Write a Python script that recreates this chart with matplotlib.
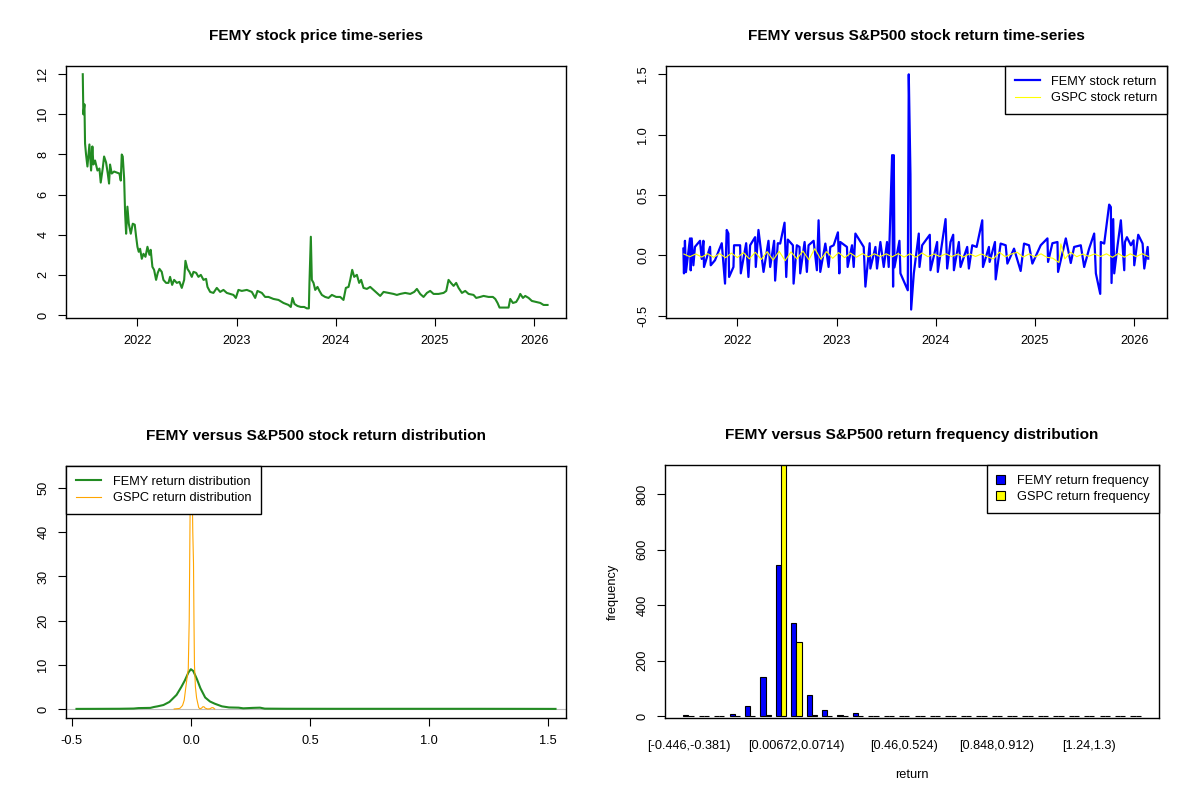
import matplotlib
matplotlib.use('Agg')
import matplotlib.pyplot as plt
from matplotlib.patches import Patch
from matplotlib.lines import Line2D

plt.rcParams['font.family'] = ['Liberation Sans', 'DejaVu Sans']
plt.rcParams['font.size'] = 9.2

# FEMY closing price (decimal year, USD)
price_dates = [2021.449, 2021.455, 2021.466, 2021.472, 2021.482, 2021.496, 2021.516, 2021.533,
               2021.546, 2021.556, 2021.573, 2021.597, 2021.617, 2021.630, 2021.650, 2021.664,
               2021.684, 2021.701, 2021.714, 2021.724, 2021.741, 2021.765, 2021.792, 2021.818,
               2021.832, 2021.842, 2021.852, 2021.866, 2021.876, 2021.886, 2021.899, 2021.913,
               2021.933, 2021.953, 2021.973, 2021.987, 2022.000, 2022.013, 2022.027, 2022.044,
               2022.061, 2022.081, 2022.101, 2022.121, 2022.134, 2022.151, 2022.168, 2022.188,
               2022.205, 2022.222, 2022.245, 2022.262, 2022.289, 2022.313, 2022.329, 2022.350,
               2022.370, 2022.397, 2022.424, 2022.447, 2022.471, 2022.484, 2022.504, 2022.524,
               2022.548, 2022.565, 2022.592, 2022.615, 2022.639, 2022.666, 2022.692, 2022.706,
               2022.733, 2022.766, 2022.800, 2022.834, 2022.867, 2022.901, 2022.934, 2022.968,
               2022.992, 2023.018, 2023.052, 2023.103, 2023.153, 2023.187, 2023.210, 2023.254,
               2023.287, 2023.321, 2023.371, 2023.422, 2023.472, 2023.523, 2023.546, 2023.563,
               2023.583, 2023.613, 2023.647, 2023.681, 2023.708, 2023.728, 2023.734, 2023.748,
               2023.758, 2023.775, 2023.792, 2023.815, 2023.835, 2023.859, 2023.892, 2023.926,
               2023.960, 2024.003, 2024.044, 2024.077, 2024.101, 2024.128, 2024.145, 2024.165,
               2024.185, 2024.212, 2024.235, 2024.255, 2024.279, 2024.313, 2024.346, 2024.380,
               2024.413, 2024.447, 2024.481, 2024.531, 2024.582, 2024.615, 2024.649, 2024.699,
               2024.750, 2024.790, 2024.817, 2024.850, 2024.884, 2024.918, 2024.951, 2024.985,
               2025.035, 2025.086, 2025.113, 2025.136, 2025.160, 2025.187, 2025.213, 2025.237,
               2025.271, 2025.304, 2025.338, 2025.388, 2025.415, 2025.455, 2025.489, 2025.539,
               2025.583, 2025.607, 2025.630, 2025.650, 2025.691, 2025.741, 2025.758, 2025.785,
               2025.818, 2025.842, 2025.859, 2025.886, 2025.909, 2025.943, 2025.976, 2026.020,
               2026.061, 2026.094, 2026.134]
femy_price = [12.0, 10.0, 10.5, 8.55, 8.0, 7.4, 8.5, 7.2,
              8.4, 7.5, 7.7, 7.2, 7.3, 6.6, 7.3, 7.9,
              7.6, 7.05, 6.55, 7.5, 7.05, 7.15, 7.1, 7.05,
              6.7, 8.0, 7.9, 6.8, 5.05, 4.05, 5.4, 4.55,
              4.05, 4.55, 4.5, 3.9, 3.4, 3.15, 3.3, 2.8,
              3.05, 2.9, 3.4, 3.0, 3.25, 2.4, 2.25, 1.75,
              2.1, 2.3, 2.15, 1.75, 1.6, 1.6, 1.9, 1.5,
              1.75, 1.6, 1.65, 1.35, 1.75, 2.7, 2.3, 2.15,
              1.9, 2.15, 2.1, 1.9, 2.0, 1.75, 1.8, 1.4,
              1.15, 1.1, 1.35, 1.15, 1.25, 1.1, 1.05, 1.0,
              0.85, 1.25, 1.2, 1.25, 1.15, 0.85, 1.2, 1.1,
              0.9, 0.9, 0.8, 0.75, 0.6, 0.5, 0.4, 0.85,
              0.55, 0.45, 0.4, 0.4, 0.33, 0.33, 1.6, 3.9,
              1.75, 1.6, 1.25, 1.4, 1.2, 1.0, 0.9, 0.85,
              1.0, 0.9, 0.9, 0.75, 1.35, 1.4, 1.75, 2.25,
              1.9, 2.0, 1.6, 1.75, 1.35, 1.3, 1.4, 1.25,
              1.1, 0.95, 1.15, 1.1, 1.05, 1.0, 1.05, 1.1,
              1.05, 1.15, 1.3, 1.05, 0.9, 1.1, 1.2, 1.05,
              1.05, 1.1, 1.2, 1.75, 1.6, 1.45, 1.6, 1.35,
              1.1, 1.2, 1.05, 1.0, 0.85, 0.9, 0.95, 0.9,
              0.9, 0.8, 0.6, 0.37, 0.37, 0.37, 0.8, 0.6,
              0.65, 0.85, 1.05, 0.85, 0.95, 0.85, 0.7, 0.65,
              0.6, 0.5, 0.5]

# FEMY daily return extremes (decimal year, return)
ret_dates = [2021.455, 2021.461, 2021.471, 2021.481, 2021.522, 2021.529, 2021.539, 2021.556,
             2021.572, 2021.623, 2021.640, 2021.657, 2021.663, 2021.724, 2021.731, 2021.774,
             2021.842, 2021.875, 2021.892, 2021.909, 2021.916, 2021.960, 2021.966, 2022.027,
             2022.034, 2022.088, 2022.111, 2022.128, 2022.178, 2022.185, 2022.212, 2022.263,
             2022.313, 2022.330, 2022.370, 2022.380, 2022.407, 2022.431, 2022.475, 2022.492,
             2022.508, 2022.559, 2022.566, 2022.599, 2022.626, 2022.633, 2022.677, 2022.700,
             2022.717, 2022.768, 2022.801, 2022.818, 2022.835, 2022.886, 2022.919, 2022.936,
             2022.970, 2023.013, 2023.027, 2023.037, 2023.104, 2023.111, 2023.155, 2023.172,
             2023.189, 2023.212, 2023.273, 2023.290, 2023.333, 2023.340, 2023.391, 2023.407,
             2023.441, 2023.475, 2023.508, 2023.525, 2023.559, 2023.569, 2023.576, 2023.583,
             2023.633, 2023.643, 2023.717, 2023.727, 2023.744, 2023.751, 2023.778, 2023.828,
             2023.835, 2023.862, 2023.939, 2023.946, 2024.013, 2024.020, 2024.098, 2024.114,
             2024.148, 2024.175, 2024.182, 2024.232, 2024.249, 2024.316, 2024.333, 2024.367,
             2024.411, 2024.468, 2024.475, 2024.535, 2024.542, 2024.596, 2024.603, 2024.653,
             2024.704, 2024.721, 2024.788, 2024.855, 2024.889, 2024.939, 2024.973, 2025.057,
             2025.125, 2025.131, 2025.175, 2025.226, 2025.232, 2025.310, 2025.360, 2025.394,
             2025.461, 2025.495, 2025.545, 2025.596, 2025.613, 2025.657, 2025.663, 2025.697,
             2025.747, 2025.764, 2025.771, 2025.788, 2025.798, 2025.832, 2025.865, 2025.899,
             2025.906, 2025.926, 2025.966, 2025.993, 2026.000, 2026.040, 2026.084, 2026.101,
             2026.135, 2026.141]
femy_ret = [0.055, -0.15, 0.12, -0.14, 0.14, -0.125, 0.14, -0.083,
            0.07, 0.12, -0.03, 0.12, -0.097, 0.07, -0.083, -0.041,
            0.10, -0.235, 0.21, 0.18, -0.18, -0.097, 0.083, 0.083,
            -0.15, 0.10, -0.18, 0.083, 0.15, -0.097, 0.21, -0.138,
            0.12, -0.097, 0.12, -0.21, 0.10, 0.097, 0.27, -0.18,
            0.13, 0.083, -0.235, 0.083, 0.069, -0.15, 0.11, -0.138,
            0.083, 0.12, -0.124, 0.29, -0.138, 0.097, -0.097, 0.069,
            0.083, 0.19, -0.15, 0.11, 0.069, -0.097, 0.083, -0.097,
            0.18, 0.15, 0.069, -0.26, 0.10, -0.11, 0.069, -0.11,
            0.11, -0.097, 0.11, -0.097, 0.83, -0.26, 0.83, -0.10,
            0.12, -0.15, -0.29, 1.50, 0.67, -0.45, -0.15, 0.18,
            -0.097, 0.083, 0.17, -0.124, 0.11, -0.138, 0.30, -0.11,
            0.11, 0.17, -0.124, 0.11, -0.097, 0.069, -0.11, 0.083,
            0.069, 0.29, -0.097, 0.069, -0.055, 0.11, -0.20, 0.097,
            0.083, -0.069, 0.055, -0.13, 0.097, 0.083, -0.069, 0.083,
            0.14, -0.055, 0.10, 0.11, -0.138, 0.14, -0.064, 0.069,
            0.083, -0.097, 0.055, 0.18, -0.15, -0.32, 0.11, 0.097,
            0.42, 0.40, -0.23, 0.30, -0.15, 0.083, 0.29, -0.124,
            0.11, 0.15, 0.083, 0.124, -0.083, 0.17, 0.097, -0.11,
            0.069, -0.028]

# S&P500 (GSPC) daily return swings
gspc_dates = [2021.46, 2021.52, 2021.58, 2021.64, 2021.70, 2021.76, 2021.82, 2021.88, 2021.94,
              2022.00, 2022.06, 2022.12, 2022.18, 2022.24, 2022.30, 2022.36, 2022.42, 2022.48,
              2022.54, 2022.60, 2022.66, 2022.72, 2022.78, 2022.84, 2022.90, 2022.96,
              2023.02, 2023.08, 2023.14, 2023.20, 2023.26, 2023.32, 2023.38, 2023.44, 2023.50,
              2023.56, 2023.62, 2023.68, 2023.74, 2023.80, 2023.86, 2023.92, 2023.98,
              2024.04, 2024.10, 2024.16, 2024.22, 2024.28, 2024.34, 2024.40, 2024.46, 2024.52,
              2024.58, 2024.64, 2024.70, 2024.76, 2024.82, 2024.88, 2024.94,
              2025.00, 2025.06, 2025.12, 2025.18, 2025.24, 2025.26, 2025.30, 2025.36, 2025.42,
              2025.48, 2025.54, 2025.60, 2025.66, 2025.72, 2025.78, 2025.84, 2025.90, 2025.96,
              2026.02, 2026.08, 2026.14]
gspc_ret = [0.010, -0.012, 0.011, -0.015, 0.013, -0.017, 0.014, -0.020, 0.018,
            -0.019, 0.022, -0.030, 0.025, -0.035, 0.030, -0.040, 0.033, -0.045,
            0.028, -0.030, 0.035, -0.038, 0.055, -0.033, 0.030, -0.025,
            0.022, -0.020, 0.018, -0.016, 0.014, -0.013, 0.012, -0.011, 0.012,
            -0.013, 0.014, -0.015, 0.013, -0.016, 0.019, -0.012, 0.011,
            -0.010, 0.012, -0.011, 0.010, -0.014, 0.012, -0.010, 0.011, -0.013,
            -0.030, 0.025, -0.012, 0.010, 0.025, -0.015, 0.011,
            -0.014, 0.012, -0.017, -0.025, -0.060, 0.095, -0.030, 0.025, -0.012,
            0.010, -0.009, 0.011, -0.010, 0.012, -0.017, 0.014, -0.016, 0.012,
            -0.011, 0.013, -0.010]

# kernel density estimates of the returns
femy_dens_x = [-0.48, -0.40, -0.30, -0.24, -0.22, -0.17, -0.155, -0.14, -0.115, -0.09,
               -0.06, -0.04, -0.025, -0.01, 0.0, 0.01, 0.025, 0.04, 0.06, 0.08,
               0.10, 0.13, 0.16, 0.20, 0.22, 0.26, 0.29, 0.31, 0.40, 0.60,
               0.80, 1.00, 1.20, 1.40, 1.53]
femy_dens_y = [0.02, 0.03, 0.05, 0.1, 0.2, 0.25, 0.45, 0.6, 0.9, 1.6,
               3.2, 5.0, 6.5, 8.3, 9.0, 8.6, 6.8, 4.7, 2.6, 1.7,
               1.2, 0.6, 0.35, 0.3, 0.15, 0.25, 0.3, 0.08, 0.05, 0.04,
               0.04, 0.04, 0.04, 0.03, 0.02]
gspc_dens_x = [-0.07, -0.05, -0.045, -0.035, -0.028, -0.021, -0.015, -0.011, -0.007, -0.004,
               -0.001, 0.002, 0.005, 0.008, 0.011, 0.013, 0.015, 0.019, 0.024, 0.028,
               0.033, 0.038, 0.045, 0.05, 0.055, 0.06, 0.07, 0.08, 0.088, 0.093, 0.10]
gspc_dens_y = [0.0, 0.1, 0.2, 0.8, 2.0, 5.0, 7.5, 9.0, 20.0, 40.0,
               58.0, 60.0, 52.0, 40.0, 33.0, 20.0, 10.0, 5.0, 2.5, 1.5,
               0.3, 0.05, 0.2, 0.5, 0.5, 0.2, 0.0, 0.05, 0.3, 0.3, 0.0]

# return frequency per bin (30 bins)
femy_freq = [3, 0, 2, 7, 36, 140, 543, 336, 76, 23, 3, 12, 0, 2, 0,
             0, 0, 2, 0, 2, 0, 0, 0, 0, 0, 0, 0, 0, 0, 1]
gspc_freq = [0, 0, 0, 0, 1, 4, 912, 268, 3, 0, 0, 0, 0, 0, 0,
             0, 0, 0, 0, 0, 0, 0, 0, 0, 0, 0, 0, 0, 0, 0]
shown_bins = [0, 7, 14, 20, 26]
shown_labels = ['[-0.446,-0.381)', '[0.00672,0.0714)', '[0.46,0.524)', '[0.848,0.912)', '[1.24,1.3)']

years = [2022, 2023, 2024, 2025, 2026]

W, H = 1200, 800
FS = 9.2
TFS = 11.1
fig = plt.figure(figsize=(12, 8), dpi=100)


def box_axes(l, t, r, b):
    # pixel box -> axes in figure fraction
    ax = fig.add_axes([l / W, 1 - b / H, (r - l) / W, (b - t) / H])
    for s in ax.spines.values():
        s.set_linewidth(1.0)
        s.set_color('black')
    ax.tick_params(direction='out', length=5.5, width=0.8, pad=6.5, labelsize=FS)
    return ax


def r_legend(ax, handles, labels, loc, hl, htp):
    leg = ax.legend(handles, labels, loc=loc, frameon=True, fancybox=False, framealpha=1,
                    edgecolor='black', borderaxespad=0, borderpad=0.75, labelspacing=0.38,
                    handlelength=hl, handleheight=0.7, handletextpad=htp, fontsize=FS)
    leg.get_frame().set_linewidth(1.0)
    return leg


def fix_yticks(ax):
    for lab in ax.get_yticklabels():
        lab.set_rotation(90)
        lab.set_va('center')
        lab.set_ha('right')


# --- price time-series
ax1 = box_axes(66, 66, 566, 318)
ax1.plot(price_dates, femy_price, color='forestgreen', lw=1.5)
ax1.set_xlim(2021.28, 2026.32)
ax1.set_ylim(-0.15, 12.41)
ax1.set_xticks(years)
ax1.set_xticklabels([str(y) for y in years])
ax1.set_yticks([0, 2, 4, 6, 8, 10, 12])
fix_yticks(ax1)
ax1.set_title('FEMY stock price time-series', fontsize=TFS, fontweight='bold', pad=18.5)

# --- return time-series
ax2 = box_axes(666, 66, 1167, 318)
ax2.plot(ret_dates, femy_ret, color='blue', lw=1.6)
ax2.plot(gspc_dates, gspc_ret, color='yellow', lw=0.8)
ax2.set_xlim(2021.28, 2026.33)
ax2.set_ylim(-0.52, 1.569)
ax2.set_xticks(years)
ax2.set_xticklabels([str(y) for y in years])
ax2.set_yticks([-0.5, 0.0, 0.5, 1.0, 1.5])
ax2.set_yticklabels(['-0.5', '0.0', '0.5', '1.0', '1.5'])
fix_yticks(ax2)
ax2.set_title('FEMY versus S&P500 stock return time-series', fontsize=TFS, fontweight='bold', pad=18.5)
r_legend(ax2, [Line2D([], [], color='blue', lw=1.6), Line2D([], [], color='yellow', lw=0.8)],
         ['FEMY stock return', 'GSPC stock return'], 'upper right', 2.0, 0.85)

# --- return density
ax3 = box_axes(66, 466, 566, 718)
ax3.axhline(0, color='#BEBEBE', lw=0.8)
ax3.plot(femy_dens_x, femy_dens_y, color='forestgreen', lw=1.5)
ax3.plot(gspc_dens_x, gspc_dens_y, color='orange', lw=0.8)
ax3.set_xlim(-0.524, 1.574)
ax3.set_ylim(-2.04, 55.0)
ax3.set_xticks([-0.5, 0.0, 0.5, 1.0, 1.5])
ax3.set_xticklabels(['-0.5', '0.0', '0.5', '1.0', '1.5'])
ax3.set_yticks([0, 10, 20, 30, 40, 50])
fix_yticks(ax3)
ax3.set_title('FEMY versus S&P500 stock return distribution', fontsize=TFS, fontweight='bold', pad=18.5)
r_legend(ax3, [Line2D([], [], color='forestgreen', lw=1.5), Line2D([], [], color='orange', lw=0.8)],
         ['FEMY return distribution', 'GSPC return distribution'], 'upper left', 2.0, 0.95)

# --- frequency barplot
ax4 = box_axes(665, 465, 1159, 718)
n = len(femy_freq)
grp = [3 * k + 2 for k in range(n)]
ax4.bar([g - 0.5 for g in grp], femy_freq, width=1.0, color='blue', edgecolor='black', lw=0.8)
ax4.bar([g + 0.5 for g in grp], gspc_freq, width=1.0, color='yellow', edgecolor='black', lw=0.8)
ax4.set_xlim(-2.56, 93.56)
ax4.set_ylim(-6, 904)
ax4.set_xticks([grp[k] for k in shown_bins])
ax4.set_xticklabels(shown_labels)
ax4.tick_params(axis='x', length=0, pad=16)
ax4.set_yticks([0, 200, 400, 600, 800])
fix_yticks(ax4)
ax4.set_title('FEMY versus S&P500 return frequency distribution', fontsize=TFS, fontweight='bold', pad=18.5)
fig.text(912 / W, 1 - 775 / H, 'return', ha='center', va='center', fontsize=FS)
fig.text(612.5 / W, 1 - 591.5 / H, 'frequency', ha='center', va='center', rotation=90, fontsize=FS)
r_legend(ax4, [Patch(facecolor='blue', edgecolor='black', lw=0.8),
               Patch(facecolor='yellow', edgecolor='black', lw=0.8)],
         ['FEMY return frequency', 'GSPC return frequency'], 'upper right', 0.7, 0.9)

fig.savefig('out.png', dpi=100, facecolor='white')
